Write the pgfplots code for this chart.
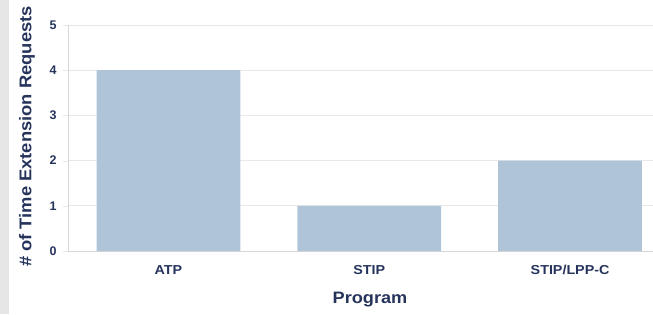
\documentclass[border=0pt]{standalone}
\usepackage{pgfplots}
\pgfplotsset{compat=1.18}
\usepackage{fontspec}
\setmainfont{Liberation Sans}
\definecolor{barc}{RGB}{176,196,216}
\definecolor{navy}{RGB}{38,52,92}
\definecolor{gridc}{RGB}{232,232,232}
\definecolor{axc}{RGB}{215,215,215}
\definecolor{stripc}{RGB}{230,230,230}
\newcommand{\wide}[1]{\scalebox{1.1}[1]{#1}}
\begin{document}
\begin{tikzpicture}[x=1pt,y=1pt]
\useasboundingbox (0,0) rectangle (653,314);
\fill[stripc] (0,0) rectangle (9,314);
\begin{axis}[
  at={(68pt,63pt)}, anchor=south west,
  scale only axis, width=585pt, height=226pt,
  xmin=-0.5, xmax=2.413, ymin=0, ymax=5,
  axis x line=bottom, axis y line=left,
  axis line style={axc, -},
  ytick={0,1,2,3,4,5},
  xtick={0,1,2},
  xticklabels={\wide{ATP},\wide{STIP},\wide{STIP/LPP-C}},
  major x tick style={draw=none},
  major y tick style={gridc},
  tick align=outside,
  major tick length=5pt,
  ymajorgrids, grid style={gridc, line width=0.8pt},
  tick label style={font=\bfseries\fontsize{13}{15}\selectfont, text=navy},
  /pgf/number format/assume math mode=true,
  yticklabel style={xshift=-3pt, font=\bfseries\fontsize{12.5}{14}\selectfont},
  xticklabel style={yshift=-6pt},
  xlabel={\scalebox{1.1}[1]{Program}},
  ylabel={\scalebox{1.08}[1]{\# of Time Extension Requests}},
  every axis y label/.style={at={(-41pt,114.5pt)}, rotate=90, anchor=center, font=\bfseries\fontsize{17}{19}\selectfont, text=navy},
  every axis x label/.style={at={(302pt,-49pt)}, anchor=center, font=\bfseries\fontsize{16.5}{19}\selectfont, text=navy},
  clip=false,
]
\addplot[ybar, bar width=0.716, fill=barc, draw=none, bar shift=0pt] coordinates {(0,4) (1,1) (2,2)};
\end{axis}
\end{tikzpicture}
\end{document}
